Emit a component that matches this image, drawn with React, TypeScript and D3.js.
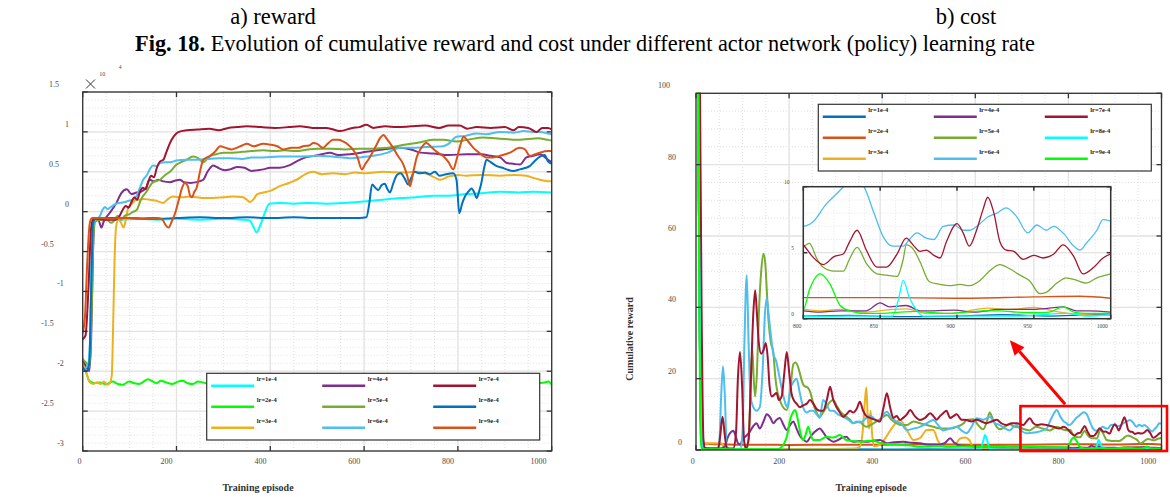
import React from 'react';
import * as d3 from 'd3';

type Pt = [number, number];

// ---------- labels, ticks, colours ----------
const LR_LABELS = ['lr=1e-4', 'lr=2e-4', 'lr=3e-4', 'lr=4e-4', 'lr=5e-4', 'lr=6e-4', 'lr=7e-4', 'lr=8e-4', 'lr=9e-4'];
const REWARD_COLORS = ['#00FFFF', '#00FF00', '#EDB120', '#7E2F8E', '#77AC30', '#4DBEEE', '#A2142F', '#0072BD', '#D95319'];
const COST_COLORS = ['#0072BD', '#D95319', '#EDB120', '#7E2F8E', '#77AC30', '#4DBEEE', '#A2142F', '#00FFFF', '#00FF00'];

const EPISODE_TICKS = [0, 200, 400, 600, 800, 1000];
const REWARD_TICKS = [-3, -2.5, -2, -1.5, -1, -0.5, 0, 0.5, 1, 1.5];
const COST_TICKS = [0, 20, 40, 60, 80, 100];
const ZOOM_EPISODE_TICKS = [800, 850, 900, 950, 1000];
const ZOOM_COST_TICKS = [0, 5, 10];

// ---------- cumulative reward (x 1e4) per episode ----------
const reward1e4: Pt[] = [[0,-1.98],[8,-1.95],[14,-1.9],[20,-0.4],[24,-0.1],[40,-0.09],[80,-0.1],[120,-0.09],[160,-0.1],[200,-0.09],[250,-0.1],[300,-0.09],[340,-0.1],[356,-0.11],[364,-0.19],[371,-0.26],[378,-0.18],[388,-0.02],[398,0.1],[420,0.11],[450,0.1],[480,0.11],[520,0.1],[560,0.11],[605,0.13],[640,0.15],[677,0.17],[710,0.18],[748,0.2],[780,0.2],[818,0.22],[850,0.23],[890,0.25],[930,0.24],[961,0.25],[1000,0.24]];
const reward2e4: Pt[] = [[0,-1.92],[7,-2.01],[14,-2.12],[25,-2.15],[36,-2.14],[50,-2.16],[64,-2.13],[75,-2.16],[85,-2.17],[99,-2.13],[110,-2.15],[121,-2.16],[139,-2.1],[150,-2.13],[157,-2.15],[167,-2.12],[178,-2.14],[192,-2.16],[203,-2.13],[213,-2.12],[224,-2.15],[235,-2.16],[246,-2.13],[256,-2.14],[270,-2.16],[300,-2.13],[340,-2.15],[380,-2.13],[420,-2.16],[460,-2.14],[500,-2.13],[540,-2.15],[580,-2.14],[620,-2.16],[660,-2.13],[700,-2.15],[740,-2.14],[780,-2.13],[820,-2.15],[860,-2.14],[900,-2.16],[940,-2.13],[970,-2.15],[985,-2.14],[993,-2.13],[1000,-2.17]];
const reward3e4: Pt[] = [[0,-1.88],[8,-2.02],[14,-2.13],[22,-2.16],[30,-2.14],[38,-2.16],[45,-2.13],[52,-2.17],[58,-2.15],[62,-2.05],[65,-1.4],[68,-0.6],[71,-0.2],[76,-0.1],[81,-0.13],[87,-0.2],[92,-0.1],[97,0.05],[105,0.1],[115,0.15],[122,0.15],[130,0.16],[143,0.15],[155,0.14],[165,0.12],[172,0.11],[180,0.15],[192,0.19],[210,0.18],[230,0.19],[243,0.18],[260,0.17],[278,0.17],[300,0.18],[320,0.19],[342,0.18],[350,0.15],[357,0.12],[365,0.16],[372,0.22],[385,0.24],[400,0.26],[420,0.32],[440,0.36],[456,0.4],[475,0.47],[491,0.5],[510,0.47],[534,0.48],[560,0.47],[580,0.49],[605,0.48],[640,0.5],[680,0.49],[712,0.5],[735,0.47],[750,0.43],[762,0.4],[780,0.44],[800,0.46],[818,0.45],[850,0.46],[890,0.45],[920,0.46],[946,0.45],[962,0.42],[975,0.4],[992,0.38],[1000,0.38]];
const reward4e4: Pt[] = [[0,-1.85],[8,-1.95],[14,-2.0],[18,-1.6],[22,-0.5],[26,-0.12],[33,-0.1],[40,-0.2],[45,-0.12],[57,-0.02],[72,0.11],[82,0.23],[94,0.28],[104,0.22],[115,0.24],[124,0.25],[135,0.3],[143,0.4],[152,0.38],[161,0.4],[172,0.38],[186,0.37],[198,0.39],[207,0.4],[216,0.37],[230,0.36],[243,0.37],[257,0.4],[266,0.5],[272,0.55],[278,0.58],[292,0.54],[303,0.52],[314,0.53],[330,0.56],[345,0.55],[360,0.51],[372,0.52],[385,0.53],[400,0.55],[420,0.55],[440,0.58],[456,0.63],[475,0.68],[495,0.7],[510,0.72],[527,0.74],[545,0.71],[570,0.72],[605,0.75],[640,0.78],[677,0.8],[700,0.78],[720,0.74],[748,0.73],[780,0.71],[818,0.72],[850,0.72],[870,0.7],[890,0.68],[904,0.61],[918,0.6],[932,0.59],[946,0.68],[961,0.7],[975,0.72],[990,0.66],[1000,0.62]];
const reward5e4: Pt[] = [[0,-1.85],[8,-1.9],[14,-1.95],[19,-1.3],[23,-0.3],[27,-0.12],[40,-0.1],[52,-0.1],[60,-0.14],[66,-0.12],[75,-0.05],[82,-0.1],[90,-0.05],[100,-0.03],[108,0.0],[115,0.02],[124,0.15],[136,0.25],[150,0.37],[165,0.4],[176,0.46],[186,0.5],[200,0.59],[210,0.62],[221,0.65],[235,0.69],[246,0.67],[257,0.62],[272,0.7],[285,0.72],[300,0.74],[320,0.74],[340,0.75],[360,0.76],[385,0.77],[410,0.76],[430,0.77],[455,0.76],[480,0.78],[500,0.79],[527,0.79],[560,0.78],[590,0.79],[620,0.79],[650,0.8],[677,0.83],[700,0.85],[720,0.87],[748,0.9],[770,0.9],[797,0.88],[820,0.9],[854,0.93],[880,0.92],[900,0.91],[925,0.9],[950,0.91],[970,0.92],[992,0.9],[1000,0.89]];
const reward6e4: Pt[] = [[0,-1.98],[8,-1.95],[14,-1.85],[18,-1.0],[22,-0.2],[27,-0.1],[33,-0.08],[37,-0.05],[42,0.02],[48,0.06],[53,0.03],[58,0.05],[65,0.08],[72,0.1],[80,0.11],[90,0.12],[100,0.14],[108,0.15],[115,0.2],[122,0.3],[129,0.4],[136,0.45],[143,0.53],[150,0.58],[158,0.57],[165,0.61],[175,0.62],[186,0.62],[200,0.64],[220,0.65],[243,0.65],[265,0.66],[290,0.67],[314,0.67],[340,0.66],[360,0.68],[385,0.68],[420,0.69],[463,0.69],[500,0.7],[534,0.69],[555,0.68],[569,0.67],[590,0.68],[620,0.7],[650,0.74],[677,0.8],[700,0.8],[730,0.81],[768,0.82],[780,0.85],[797,0.94],[815,0.95],[840,0.98],[860,0.97],[890,1.0],[920,0.99],[940,1.01],[961,1.0],[975,1.0],[992,0.98],[1000,0.97]];
const reward7e4: Pt[] = [[0,-1.6],[6,-1.55],[12,-1.0],[18,-0.2],[22,-0.1],[30,-0.09],[45,-0.1],[60,-0.1],[70,-0.1],[78,-0.06],[85,0.02],[92,0.07],[98,0.05],[104,0.12],[110,0.18],[116,0.15],[122,0.25],[128,0.3],[134,0.28],[140,0.38],[146,0.45],[152,0.43],[158,0.55],[165,0.63],[172,0.65],[178,0.74],[186,0.86],[195,0.95],[205,1.0],[222,1.02],[245,1.03],[270,1.04],[290,1.02],[310,1.05],[330,1.06],[350,1.07],[380,1.06],[410,1.05],[440,1.06],[463,1.07],[490,1.05],[520,1.05],[549,1.01],[575,1.05],[590,1.06],[605,1.09],[620,1.05],[645,1.07],[670,1.06],[700,1.07],[730,1.08],[760,1.05],[780,1.08],[804,1.08],[820,1.04],[840,1.06],[870,1.05],[900,1.06],[918,1.02],[930,1.06],[950,1.05],[968,1.0],[980,1.05],[992,1.05],[1000,1.03]];
const reward8e4: Pt[] = [[0,-1.95],[8,-2.0],[14,-1.9],[18,-1.0],[22,-0.15],[27,-0.09],[60,-0.08],[100,-0.08],[150,-0.09],[200,-0.08],[250,-0.07],[300,-0.08],[350,-0.07],[400,-0.08],[450,-0.07],[500,-0.08],[550,-0.08],[590,-0.08],[605,-0.07],[611,0.1],[617,0.34],[624,0.3],[630,0.27],[637,0.33],[644,0.35],[650,0.28],[655,0.24],[662,0.35],[670,0.46],[678,0.48],[686,0.42],[694,0.34],[700,0.42],[708,0.5],[718,0.48],[730,0.49],[740,0.47],[751,0.5],[761,0.45],[775,0.47],[790,0.48],[797,0.4],[803,-0.02],[809,0.1],[815,0.19],[822,0.25],[829,0.29],[835,0.24],[840,0.17],[845,0.25],[850,0.36],[856,0.55],[861,0.65],[870,0.62],[883,0.57],[895,0.55],[904,0.53],[918,0.51],[932,0.53],[945,0.55],[953,0.57],[963,0.63],[975,0.69],[985,0.71],[992,0.63],[1000,0.6]];
const reward9e4: Pt[] = [[0,-1.52],[5,-1.3],[10,-0.6],[15,-0.15],[20,-0.08],[40,-0.08],[60,-0.09],[80,-0.08],[100,-0.08],[120,-0.09],[140,-0.08],[160,-0.08],[170,-0.1],[177,-0.17],[183,-0.2],[190,-0.12],[197,-0.02],[205,0.15],[212,0.3],[218,0.36],[224,0.32],[229,0.2],[233,0.18],[238,0.25],[243,0.3],[250,0.5],[257,0.65],[265,0.68],[272,0.7],[282,0.75],[293,0.82],[305,0.8],[318,0.78],[328,0.8],[340,0.83],[350,0.85],[365,0.82],[385,0.85],[400,0.84],[415,0.82],[428,0.78],[445,0.8],[460,0.8],[470,0.82],[483,0.83],[492,0.86],[500,0.85],[512,0.8],[522,0.85],[534,0.9],[545,0.9],[555,0.88],[566,0.84],[576,0.78],[586,0.68],[595,0.53],[603,0.6],[612,0.68],[625,0.82],[635,0.93],[641,0.96],[650,0.9],[662,0.8],[672,0.7],[683,0.6],[692,0.45],[698,0.32],[705,0.5],[712,0.68],[722,0.8],[733,0.86],[745,0.8],[755,0.75],[768,0.7],[780,0.62],[790,0.53],[797,0.65],[806,0.85],[812,0.94],[822,0.88],[833,0.8],[845,0.74],[861,0.68],[875,0.68],[890,0.7],[911,0.74],[932,0.8],[943,0.78],[953,0.7],[965,0.72],[975,0.74],[992,0.76],[1000,0.76]];

// ---------- cost per episode ----------
const cost1e4: Pt[] = [[0,300],[5,120],[9,30],[13,2],[18,0.3],[50,0.2],[100,0.25],[150,0.2],[200,0.15],[300,0.2],[400,0.15],[500,0.2],[600,0.15],[700,0.2],[800,0.2],[830,0.25],[860,0.15],[900,0.2],[930,0.3],[960,0.2],[990,0.3],[1000,0.3]];
const cost2e4: Pt[] = [[0,250],[5,90],[9,20],[13,1.8],[30,1.7],[60,1.6],[100,1.5],[150,1.5],[200,1.4],[300,1.5],[400,1.5],[500,1.6],[600,1.5],[700,1.5],[800,1.6],[850,1.6],[900,1.55],[950,1.65],[980,1.7],[1000,1.55]];
const cost3e4: Pt[] = [[0,250],[5,90],[9,20],[13,2.2],[20,1.9],[40,1.9],[55,1.9],[62,0.5],[70,0.3],[120,0.3],[200,0.3],[300,0.3],[340,0.4],[352,0.9],[358,5],[363,14],[366,17.5],[369,9],[372,6],[375,11],[378,5],[382,1],[395,1.5],[405,3],[420,6],[438,8.4],[453,5.6],[467,2.8],[481,3.3],[496,5.6],[510,5.6],[520,2.5],[528,1.2],[540,0.8],[555,1.2],[567,3.2],[578,3.5],[587,2.8],[595,0.9],[620,0.6],[660,0.8],[700,0.6],[740,0.7],[780,0.7],[800,0.7],[811,0.6],[824,0.7],[841,0.5],[858,0.7],[867,0.75],[880,0.4],[895,0.4],[920,0.8],[935,0.7],[950,0.85],[967,0.5],[982,0.3],[1000,0.25]];
const cost4e4: Pt[] = [[0,250],[5,90],[9,20],[13,1],[20,0.4],[50,0.4],[62,1],[68,3.5],[75,5],[80,5.4],[85,4],[90,1.9],[95,1.5],[100,3],[108,4],[115,5],[122,6.5],[130,7.5],[137,6],[145,8],[152,10],[160,9],[166,7.5],[173,8.5],[180,9],[188,7],[195,5.6],[202,7],[209,8],[216,6],[223,4],[230,3],[238,2.3],[245,3.5],[252,4.7],[259,5.5],[266,6],[273,5],[280,3.7],[288,2.8],[295,2.3],[305,2.8],[315,3.5],[323,3.7],[330,2.8],[338,2.3],[350,2.5],[366,2.3],[380,2.6],[395,2.8],[410,1.9],[425,2.2],[445,2.3],[465,2],[481,1.9],[500,1.5],[520,1.5],[535,2],[546,3.3],[555,2],[570,1.2],[600,1],[640,1],[680,0.8],[720,0.8],[760,0.7],[800,0.6],[811,0.5],[824,0.6],[841,0.6],[850,1.2],[856,0.9],[867,1],[876,0.6],[885,0.6],[898,0.65],[911,0.5],[928,0.7],[950,0.7],[960,0.8],[969,0.9],[978,0.6],[986,0.6],[1000,0.5]];
const cost5e4: Pt[] = [[0,250],[5,90],[9,20],[13,0.8],[20,0.3],[60,0.3],[100,0.3],[110,0.5],[115,8],[118,20],[121,28],[124,20],[127,15],[131,22],[135,38],[140,50],[145,55],[149,52],[152,45],[156,36],[161,30],[166,27.5],[170,21],[173,17.7],[180,14],[187,12],[195,11.2],[202,16],[209,24],[214,24.5],[220,23],[226,20],[232,18],[240,17.5],[246,16],[252,13],[259,10.5],[266,9.3],[273,10.5],[280,12],[288,13.5],[295,14],[302,12.5],[309,11],[316,10],[323,9.3],[331,8.5],[338,7.5],[345,7.8],[352,8],[359,7],[366,6.5],[375,7],[388,8],[399,9],[410,9.8],[420,8.5],[431,7.5],[442,7],[453,7],[467,8],[481,7.5],[496,7],[510,6.5],[525,6],[546,6],[560,6.5],[575,7.5],[581,8.4],[596,8.6],[606,7],[617,5.8],[625,8],[631,10.5],[638,8.5],[646,6.5],[653,5.8],[663,6.5],[674,7.2],[685,6.5],[696,6.4],[705,5.8],[717,5.5],[730,6.5],[745,6],[760,5.5],[775,6.5],[790,5.7],[800,5.5],[804,5.7],[809,4.5],[813,3.9],[820,3.6],[826,3.6],[830,4.5],[835,5.4],[841,4.2],[848,3.4],[854,3.3],[861,3.2],[865,4.5],[867,5.6],[872,5.2],[876,4.3],[882,2.8],[889,2.6],[895,2.5],[902,2.6],[908,2.5],[915,2.9],[921,3.6],[928,4.1],[934,3.8],[941,3.3],[947,2.9],[954,1.9],[958,2],[965,2.7],[971,3.1],[978,2.9],[984,2.7],[991,3.1],[997,3.3],[1000,3.4]];
const cost6e4: Pt[] = [[0,250],[5,90],[9,20],[13,0.5],[20,0.2],[45,0.2],[50,2],[54,15],[58,23.5],[62,15],[66,1],[72,0.3],[95,0.3],[100,5],[104,30],[109,49],[113,30],[117,15],[123,12],[130,11],[137,12],[143,22],[148,38],[152,42.5],[156,38],[161,32],[166,27],[172,25],[177,22],[183,18],[188,15],[192,13],[197,12],[202,17],[209,19],[216,20],[223,16],[230,12],[238,10.5],[245,11],[252,11],[259,10],[266,9],[273,14],[280,13],[288,11],[295,11],[305,10],[316,9.3],[327,8.5],[338,7.5],[345,8],[353,7.7],[366,9],[374,9.7],[385,8.5],[395,8],[403,10],[410,10.7],[420,9],[431,8],[440,7.5],[453,5.6],[467,6],[481,6.5],[496,7.5],[510,8.4],[520,7],[531,5.5],[546,6],[560,6.5],[570,5.5],[581,4.7],[592,6.5],[603,8.9],[617,8.5],[631,9.3],[642,7.5],[653,7],[664,6],[674,5.5],[682,6.5],[689,7],[698,5.5],[710,4.7],[720,4.8],[732,5],[745,5.5],[753,6],[762,8.5],[770,10.5],[775,11.2],[782,9.5],[790,8],[796,7.5],[800,7],[806,7.3],[815,8.7],[822,9.5],[828,10.2],[833,10.6],[839,10.1],[846,8],[852,6.2],[858,5.5],[865,5.5],[869,6],[874,6.5],[880,6.1],[885,6],[891,7],[898,7.1],[904,6.7],[908,6.7],[915,7.2],[920,7.7],[926,8],[932,8.4],[939,7.7],[946,6.5],[952,7.1],[958,6.7],[963,7],[969,6.5],[976,5.5],[980,5.2],[984,5.7],[991,6.7],[995,7.5],[1000,7.4]];
const cost7e4: Pt[] = [[0,300],[4,200],[8,110],[12,40],[16,3],[20,0.5],[40,0.4],[48,0.5],[52,4],[57,9.3],[62,4],[66,0.5],[80,0.4],[86,5],[90,20],[94.5,27.5],[99,18],[103,3],[107,0.5],[113,3],[118,20],[123,38],[127,44.8],[131,38],[135,30],[140,27],[145,28],[150,30],[154,26],[158,18],[163,15],[168,15.5],[173,16],[178,14],[184,15],[190,22],[195,27.5],[200,22],[205,16],[210,14],[216,13],[223,12],[230,12.5],[238,13],[245,14],[252,13],[259,11.5],[266,11],[273,11],[281,14],[288,17.7],[295,14],[302,12],[309,10.5],[316,9.3],[323,10],[331,11],[338,10.5],[345,11.5],[352,13.5],[359,11],[366,9.5],[374,9],[384,8.5],[395,8],[403,12],[410,15.9],[417,12],[424,9],[431,9.5],[438,8.4],[445,9],[453,10],[460,11.2],[470,9.5],[481,8.4],[492,9],[503,10.3],[510,9.5],[517,8.5],[524,9.5],[531,10.3],[538,11],[546,9],[553,9.5],[560,10],[570,8.5],[581,8.4],[592,8],[603,8.5],[613,8],[624,7.5],[635,8],[646,8.5],[656,7.5],[667,7],[678,7.5],[689,7.5],[703,7],[710,8],[717,8.9],[725,7.5],[732,7],[742,7.2],[753,7],[768,6.5],[780,6],[790,6.5],[800,5.6],[806,4.7],[813,4.1],[820,4.7],[826,4.9],[830,5.8],[835,6.7],[841,5.2],[848,3.9],[854,3.9],[861,4.9],[867,6.1],[872,5.5],[876,5.1],[880,5.2],[885,4.8],[889,4.6],[893,5.8],[900,7.2],[904,6.5],[908,5.5],[913,6.8],[917,8.3],[920,9.2],[924,8],[928,5.8],[932,5.2],[937,5.1],[943,4.5],[950,4.8],[956,4.6],[963,4.9],[969,5.6],[976,4.7],[982,3.4],[989,3.9],[995,4.6],[1000,4.9]];
const cost8e4: Pt[] = [[0,250],[5,90],[9,20],[13,0.5],[20,0.1],[100,0.1],[200,0.1],[300,0.1],[400,0.1],[500,0.1],[600,0.1],[612,0.3],[617,2.5],[621,4.2],[626,2.5],[631,0.3],[650,0.1],[700,0.1],[750,0.1],[800,0.15],[830,0.2],[858,0.2],[862,1.5],[865,2.9],[869,1.6],[874,0.6],[878,0.2],[900,0.2],[940,0.2],[971,0.4],[985,0.2],[1000,0.3]];
const cost9e4: Pt[] = [[0,300],[3,250],[6,60],[9,8],[12,0.5],[20,0.2],[100,0.2],[175,0.2],[182,0.6],[190,2],[195,3.7],[202,8.4],[208,10.5],[213,11.2],[218,9],[223,5.6],[230,2.8],[236,4.5],[241,6.5],[246,4.5],[252,2.8],[266,2.8],[280,3.7],[295,3.5],[309,4.2],[316,3.5],[323,2.8],[338,2.5],[352,2.3],[366,2.5],[380,2.6],[395,2],[410,1.7],[430,1.6],[445,1.4],[465,1.2],[481,0.9],[500,1],[520,1.1],[540,1],[560,0.9],[580,1],[600,0.9],[630,1],[660,0.9],[690,0.8],[720,0.9],[750,0.8],[780,0.8],[795,0.7],[800,0.7],[804,2.2],[811,3.4],[817,2.7],[824,1],[830,0.6],[841,0.4],[852,0.4],[863,0.5],[874,0.55],[885,0.45],[895,0.4],[906,0.5],[917,0.6],[928,0.6],[939,0.5],[950,0.45],[960,0.5],[969,0.9],[976,0.5],[984,0.4],[1000,0.4]];

const REWARD_SERIES = [reward1e4, reward2e4, reward3e4, reward4e4, reward5e4, reward6e4, reward7e4, reward8e4, reward9e4];
const COST_SERIES = [cost1e4, cost2e4, cost3e4, cost4e4, cost5e4, cost6e4, cost7e4, cost8e4, cost9e4];

// ---------- layout ----------
const W = 1170;
const H = 497;
const SERIF = '"Liberation Serif", "Times New Roman", serif';
const TICK_FILL = '#4a4a4a';
const FRAME = '#333333';
const GRID_MAJOR = '#e3e3e3';
const GRID_MINOR = '#d2d2d2';

type Lin = d3.ScaleLinear<number, number>;

function Grid({ x, y, xMinor, yMinor, xMajor, yMajor, minorW = 0.7 }:
  { x: Lin; y: Lin; xMinor: number[]; yMinor: number[]; xMajor: number[]; yMajor: number[]; minorW?: number }) {
  const [xa, xb] = x.range();
  const [ya, yb] = y.range();
  return (
    <g>
      {xMinor.map((v) => (
        <line key={'xm' + v} x1={x(v)} x2={x(v)} y1={ya} y2={yb} stroke={GRID_MINOR} strokeWidth={minorW} strokeDasharray="1,2" />
      ))}
      {yMinor.map((v) => (
        <line key={'ym' + v} x1={xa} x2={xb} y1={y(v)} y2={y(v)} stroke={GRID_MINOR} strokeWidth={minorW} strokeDasharray="1,2" />
      ))}
      {xMajor.map((v) => (
        <line key={'xM' + v} x1={x(v)} x2={x(v)} y1={ya} y2={yb} stroke={GRID_MAJOR} strokeWidth={1.3} />
      ))}
      {yMajor.map((v) => (
        <line key={'yM' + v} x1={xa} x2={xb} y1={y(v)} y2={y(v)} stroke={GRID_MAJOR} strokeWidth={1.3} />
      ))}
    </g>
  );
}

function Frame({ x, y, xTicks, yTicks, tick = 5, sw = 1.3 }:
  { x: Lin; y: Lin; xTicks: number[]; yTicks: number[]; tick?: number; sw?: number }) {
  const [xa, xb] = x.range();
  const [ya, yb] = y.range();
  return (
    <g stroke={FRAME} strokeWidth={sw} fill="none">
      <rect x={xa} y={yb} width={xb - xa} height={ya - yb} />
      {xTicks.map((v) => (
        <g key={'xt' + v}>
          <line x1={x(v)} x2={x(v)} y1={ya} y2={ya - tick} />
          <line x1={x(v)} x2={x(v)} y1={yb} y2={yb + tick} />
        </g>
      ))}
      {yTicks.map((v) => (
        <g key={'yt' + v}>
          <line x1={xa} x2={xa + tick} y1={y(v)} y2={y(v)} />
          <line x1={xb} x2={xb - tick} y1={y(v)} y2={y(v)} />
        </g>
      ))}
    </g>
  );
}

function Legend({ x, y, colors }: { x: number; y: number; colors: string[] }) {
  return (
    <g>
      <rect x={x} y={y} width={333} height={66.7} fill="#ffffff" stroke={FRAME} strokeWidth={1.2} />
      {LR_LABELS.map((lab, i) => {
        const col = Math.floor(i / 3);
        const row = i % 3;
        const lx = x + 4.5 + col * 111;
        const ly = y + 12.4 + row * 21;
        return (
          <g key={lab}>
            <line x1={lx} x2={lx + 43} y1={ly} y2={ly} stroke={colors[i]} strokeWidth={2.4} />
            <text x={lx + 45.5} y={ly - 5} fontFamily={SERIF} fontSize={6.5} fontWeight="bold" fill="#222">{lab}</text>
          </g>
        );
      })}
    </g>
  );
}

export default function App() {
  // reward panel
  const xL = d3.scaleLinear().domain([0, 1000]).range([82.7, 551.7]);
  const yL = d3.scaleLinear().domain([-3, 1.5]).range([451, 92]);
  // cost panel
  const xR = d3.scaleLinear().domain([0, 1000]).range([696, 1161.5]);
  const yR = d3.scaleLinear().domain([0, 100]).range([450, 93.3]);
  // magnified window of the cost panel
  const xZ = d3.scaleLinear().domain([800, 1000]).range([803.3, 1110.7]);
  const yZ = d3.scaleLinear().domain([0, 10]).range([318.7, 186.7]);

  const lineL = d3.line<Pt>().x((d) => xL(d[0])).y((d) => yL(d[1])).curve(d3.curveMonotoneX);
  const lineR = d3.line<Pt>().x((d) => xR(d[0])).y((d) => yR(d[1])).curve(d3.curveMonotoneX);
  const lineZ = d3.line<Pt>().x((d) => xZ(d[0])).y((d) => yZ(d[1])).curve(d3.curveMonotoneX);

  const minorEp = d3.range(0, 1001, 50);
  const minorReward = d3.range(-30, 16, 1).map((v) => v / 10);
  const minorCost = d3.range(0, 101, 5);
  const minorZoomEp = d3.range(800, 1001, 10);
  const minorZoomCost = d3.range(0, 11, 1);

  const fmtTick = (v: number) => String(v);

  // arrow from the highlighted window to the magnified inset
  const boxX0 = xR(697);
  const boxY0 = yR(12.3);
  const arrowFrom: Pt = [xR(793), yR(12.8)];
  const arrowTo: Pt = [xR(674), yR(30.8)];
  const ang = Math.atan2(arrowTo[1] - arrowFrom[1], arrowTo[0] - arrowFrom[0]);
  const headLen = 15;
  const headW = 6.5;
  const hb: Pt = [arrowTo[0] - headLen * Math.cos(ang), arrowTo[1] - headLen * Math.sin(ang)];
  const head = [
    arrowTo,
    [hb[0] + headW * Math.sin(ang), hb[1] - headW * Math.cos(ang)],
    [hb[0] - headW * Math.sin(ang), hb[1] + headW * Math.cos(ang)],
  ].map((p) => p.join(',')).join(' ');

  return (
    <svg width={W} height={H} viewBox={`0 0 ${W} ${H}`} style={{ position: 'absolute', left: 0, top: 0, background: '#fff' }}>
      <defs>
        <clipPath id="clipL"><rect x={82.7} y={92} width={469} height={359} /></clipPath>
        <clipPath id="clipR"><rect x={696} y={93.3} width={465.5} height={356.7} /></clipPath>
        <clipPath id="clipZ"><rect x={803.3} y={186.7} width={307.4} height={132} /></clipPath>
      </defs>
      <rect x={0} y={0} width={W} height={H} fill="#fff" />

      {/* headings */}
      <text x={273} y={24} textAnchor="middle" fontFamily={SERIF} fontSize={22.5} fill="#000">a) reward</text>
      <text x={966} y={24} textAnchor="middle" fontFamily={SERIF} fontSize={22.5} fill="#000">b) cost</text>
      <text x={585} y={51} textAnchor="middle" fontFamily={SERIF} fontSize={22.3} fill="#000">
        <tspan fontWeight="bold">Fig. 18.</tspan> Evolution of cumulative reward and cost under different actor network (policy) learning rate
      </text>

      {/* ===== reward panel ===== */}
      <Grid x={xL} y={yL} xMinor={minorEp} yMinor={minorReward} xMajor={EPISODE_TICKS} yMajor={REWARD_TICKS} />
      <g clipPath="url(#clipL)" fill="none" strokeLinejoin="round" strokeLinecap="round">
        {REWARD_SERIES.map((s, i) => (
          <path key={i} d={lineL(s) ?? ''} stroke={REWARD_COLORS[i]} strokeWidth={2} />
        ))}
      </g>
      <Frame x={xL} y={yL} xTicks={EPISODE_TICKS} yTicks={REWARD_TICKS} />
      {REWARD_TICKS.map((v) => {
        const s = fmtTick(v);
        return (
          <text key={'ly' + v} x={73.5 - 6.5 * s.length} y={yL(v) - 5} textAnchor="middle" fontFamily={SERIF} fontSize={8} fill={TICK_FILL}>{s}</text>
        );
      })}
      {EPISODE_TICKS.map((v) => {
        const s = fmtTick(v);
        return (
          <text key={'lx' + v} x={xL(v) - 3.3 * s.length} y={463.5} textAnchor="middle" fontFamily={SERIF} fontSize={8} fill={TICK_FILL}>{s}</text>
        );
      })}
      {/* exponent marker */}
      <g stroke={FRAME} strokeWidth={1}>
        <line x1={86} y1={79.5} x2={95} y2={88.5} />
        <line x1={95} y1={79.5} x2={86} y2={88.5} />
      </g>
      <text x={102.3} y={75.5} textAnchor="middle" fontFamily={SERIF} fontSize={6} fill={TICK_FILL}>10</text>
      <text x={120} y={68.5} textAnchor="middle" fontFamily={SERIF} fontSize={5.5} fill={TICK_FILL}>4</text>
      <text x={258} y={491} textAnchor="middle" fontFamily={SERIF} fontSize={10} fontWeight="bold" fill="#333">Training episode</text>
      <Legend x={206.7} y={373.3} colors={REWARD_COLORS} />

      {/* ===== cost panel ===== */}
      <Grid x={xR} y={yR} xMinor={minorEp} yMinor={minorCost} xMajor={EPISODE_TICKS} yMajor={COST_TICKS} />
      <g clipPath="url(#clipR)" fill="none" strokeLinejoin="round" strokeLinecap="round">
        {COST_SERIES.map((s, i) => (
          <path key={i} d={lineR(s) ?? ''} stroke={COST_COLORS[i]} strokeWidth={2} />
        ))}
      </g>
      <Frame x={xR} y={yR} xTicks={EPISODE_TICKS} yTicks={COST_TICKS} />
      {COST_TICKS.map((v) => {
        const s = fmtTick(v);
        return (
          <text key={'ry' + v} x={688 - 8 * s.length} y={yR(v) - 5} textAnchor="middle" fontFamily={SERIF} fontSize={8} fill={TICK_FILL}>{s}</text>
        );
      })}
      {EPISODE_TICKS.map((v) => {
        const s = fmtTick(v);
        return (
          <text key={'rx' + v} x={xR(v) - 3.3 * s.length} y={463.5} textAnchor="middle" fontFamily={SERIF} fontSize={8} fill={TICK_FILL}>{s}</text>
        );
      })}
      <text x={871} y={491} textAnchor="middle" fontFamily={SERIF} fontSize={10} fontWeight="bold" fill="#333">Training episode</text>
      <text transform="translate(633,339) rotate(-90)" textAnchor="middle" fontFamily={SERIF} fontSize={10} fontWeight="bold" fill="#333">Cumulative reward</text>
      <Legend x={818.3} y={104.3} colors={COST_COLORS} />

      {/* magnified window, episodes 800-1000 */}
      <rect x={803.3} y={186.7} width={307.4} height={132} fill="#fff" />
      <Grid x={xZ} y={yZ} xMinor={minorZoomEp} yMinor={minorZoomCost} xMajor={ZOOM_EPISODE_TICKS} yMajor={ZOOM_COST_TICKS} minorW={0.6} />
      <g clipPath="url(#clipZ)" fill="none" strokeLinejoin="round" strokeLinecap="round">
        {COST_SERIES.map((s, i) => (
          <path key={i} d={lineZ(s.filter((d) => d[0] >= 790)) ?? ''} stroke={COST_COLORS[i]} strokeWidth={1.3} />
        ))}
      </g>
      <Frame x={xZ} y={yZ} xTicks={ZOOM_EPISODE_TICKS} yTicks={ZOOM_COST_TICKS} tick={4} sw={1.5} />
      {ZOOM_COST_TICKS.map((v) => {
        const s = fmtTick(v);
        return (
          <text key={'zy' + v} x={798.7 - 6 * s.length} y={yZ(v) - 2.5} textAnchor="middle" fontFamily={SERIF} fontSize={5.5} fill={TICK_FILL}>{s}</text>
        );
      })}
      {ZOOM_EPISODE_TICKS.map((v) => {
        const s = fmtTick(v);
        return (
          <text key={'zx' + v} x={xZ(v) - 2.1 * s.length} y={328} textAnchor="middle" fontFamily={SERIF} fontSize={5.5} fill={TICK_FILL}>{s}</text>
        );
      })}

      {/* highlight box and arrow */}
      <rect x={boxX0} y={boxY0} width={1167 - boxX0} height={451 - boxY0} fill="none" stroke="#ff0000" strokeWidth={2.6} />
      <line x1={arrowFrom[0]} y1={arrowFrom[1]} x2={hb[0]} y2={hb[1]} stroke="#ff0000" strokeWidth={3} />
      <polygon points={head} fill="#ff0000" />
    </svg>
  );
}
